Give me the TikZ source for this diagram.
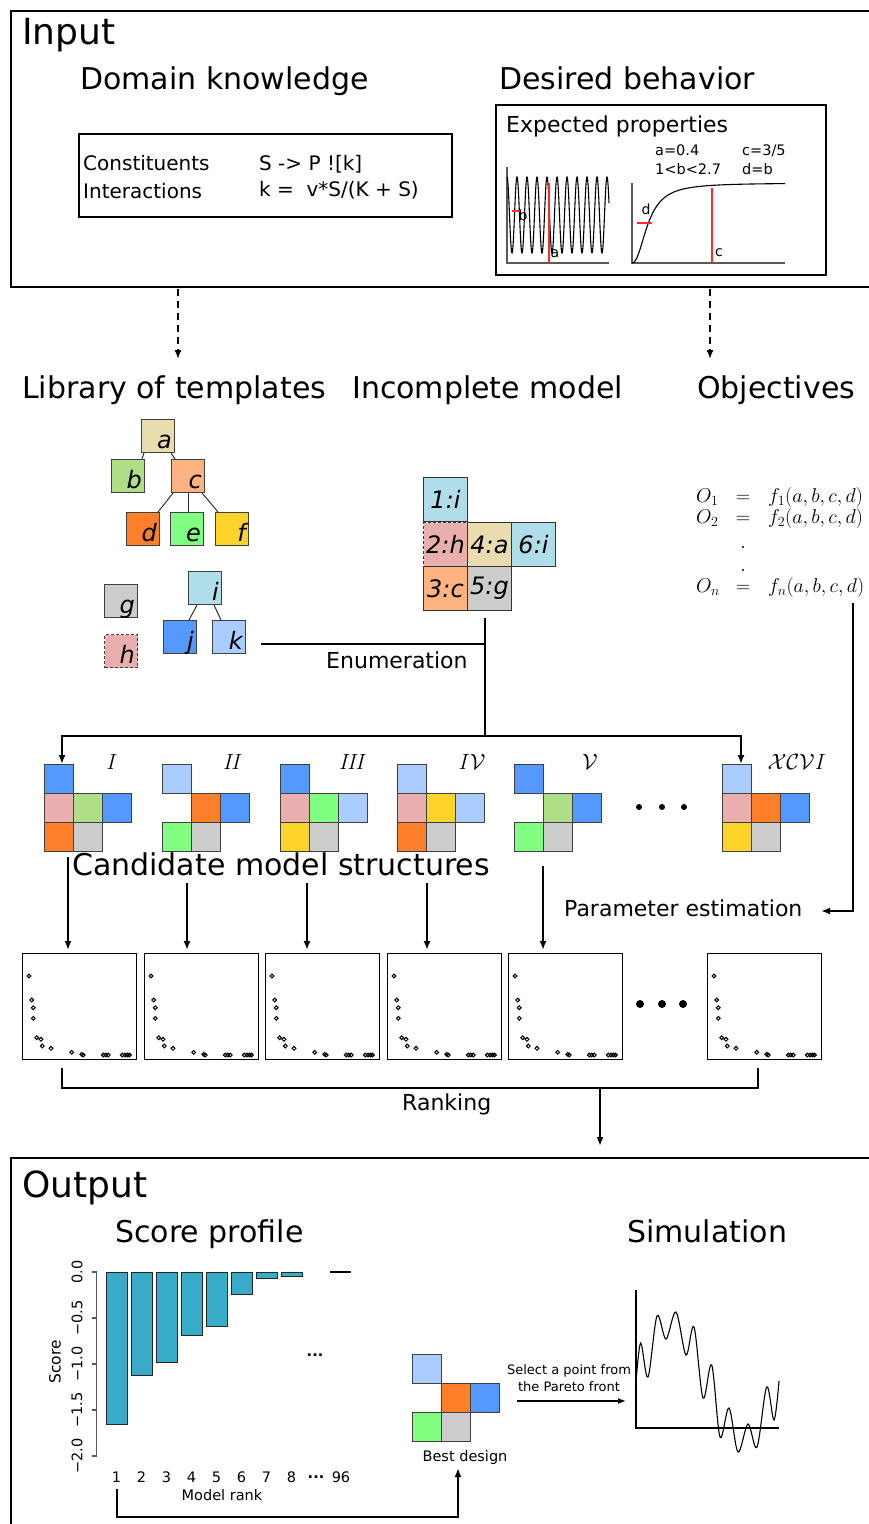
\documentclass[tikz,border=0pt]{standalone}
\usepackage{fix-cm}
\usepackage[no-math]{fontspec}
\setmainfont{DejaVu Sans}
\usetikzlibrary{arrows.meta}
\definecolor{cA}{HTML}{E9DDAF}
\definecolor{cB}{HTML}{AFDE87}
\definecolor{cC}{HTML}{FFB380}
\definecolor{cD}{HTML}{FF7F2A}
\definecolor{cE}{HTML}{80FF80}
\definecolor{cF}{HTML}{FFD42A}
\definecolor{cG}{HTML}{CCCCCC}
\definecolor{cH}{HTML}{E9AFAF}
\definecolor{cI}{HTML}{AFDDE9}
\definecolor{cJ}{HTML}{5599FF}
\definecolor{cK}{HTML}{AACCFF}
\definecolor{barc}{HTML}{37ABC8}
\definecolor{redl}{HTML}{FF2A2A}
\begin{document}
\begin{tikzpicture}[x=1pt,y=-1pt,
 hd/.style={font=\fontsize{30}{36}\selectfont, anchor=base west, inner sep=0pt},
 hdbig/.style={font=\fontsize{36}{42}\selectfont, anchor=base west, inner sep=0pt},
 lbl/.style={font=\fontsize{22}{26}\selectfont, anchor=base west, inner sep=0pt},
 dk/.style={font=\fontsize{20}{22}\selectfont, anchor=base west, inner sep=0pt},
 ep/.style={font=\fontsize{14.5}{16}\selectfont, anchor=base west, inner sep=0pt},
 frame/.style={draw, line width=2.2pt},
 conn/.style={draw, line width=2pt},
 arr/.style={conn, -{Latex[length=9pt,width=7pt]}},
 darr/.style={draw, line width=1.6pt, dash pattern=on 7pt off 5pt, -{Latex[length=9pt,width=7pt]}},
 tree/.style={draw=black!80, line width=1pt},
 tmpl/.style={draw=black!75, line width=1pt, minimum width=33pt, minimum height=33pt, inner sep=0pt, anchor=north west},
 tl/.style={label={[anchor=base east, xshift=-3pt, yshift=5pt, inner sep=0pt, font=\fontsize{24}{24}\selectfont\itshape]south east:#1}},
 mcell/.style={draw=black!80, line width=1pt, minimum width=44pt, minimum height=44pt, inner sep=0pt, anchor=north west, font=\fontsize{24}{24}\selectfont\itshape},
 ccell/.style={draw=black!75, line width=0.9pt, minimum width=29pt, minimum height=29pt, inner sep=0pt, anchor=north west},
 roman/.style={font=\fontsize{22}{22}\selectfont, inner sep=0pt},
 pbox/.style={draw, line width=1.1pt, minimum width=114pt, minimum height=106pt, inner sep=0pt, anchor=north west},
 small/.style={font=\fontsize{14.5}{16}\selectfont, inner sep=0pt},
 obj/.style={font=\fontsize{20}{20}\selectfont, inner sep=0pt},
 axisg/.style={draw=black!65, line width=1.5pt},
]
\useasboundingbox (0,0) rectangle (868,1524);

% ---------------- Input ----------------
\draw[frame] (11,11) rectangle (885,287);
\node[hdbig] (inT) at (22,44) {Input};
\node[hd] (dkT) at (80,89) {Domain knowledge};
\node[hd] (dbT) at (499,89) {Desired behavior};

\node[draw, line width=1.8pt, minimum width=373pt, minimum height=83pt, inner sep=0pt, anchor=north west] (dkbox) at (78,133) {};
\node[dk] (con) at (83,170) {Constituents};
\node[dk] (int) at (83,198) {Interactions};
\node[dk] (r1) at (259,170) {S -> P ![k]};
\node[dk] (r2) at (259,196) {k =\ \ v*S/(K + S)};

\node[draw, line width=1.8pt, minimum width=330pt, minimum height=170pt, inner sep=0pt, anchor=north west] (epbox) at (495,104) {};
\node[font=\fontsize{22}{26}\selectfont, anchor=base west, inner sep=0pt] (epT) at (506,132) {Expected properties};
\node[ep] (pa) at (655,155) {a=0.4};
\node[ep] (pc) at (742,155) {c=3/5};
\node[ep] (pb) at (655,174) {1<b<2.7};
\node[ep] (pd) at (742,174) {d=b};
% left plot
\draw[axisg] (507,167) -- (507,263) -- (609,263);
\draw[line width=1.1pt] plot[domain=0:102, samples=400] ({507+\x}, {215-38*cos(\x*36)});
\draw[redl, line width=1.3pt] (549,183) -- (549,263);
\draw[redl, line width=1.3pt] (512,211) -- (521,211);
\node[font=\fontsize{14}{14}\selectfont, inner sep=0pt] (la) at (555,254) {a};
\node[font=\fontsize{14}{14}\selectfont, inner sep=0pt] (lb) at (523,215) {b};
% right plot
\draw[axisg] (632,183) -- (632,263) -- (785,263);
\draw[line width=1.1pt] plot[domain=0:153, samples=120] ({632+\x}, {263-80*((\x/16.4)^2.2)/(1+(\x/16.4)^2.2)});
\draw[redl, line width=1.3pt] (712,188) -- (712,263);
\draw[redl, line width=1.3pt] (637,223) -- (652,223);
\node[font=\fontsize{14}{14}\selectfont, inner sep=0pt] (lc) at (719,253) {c};
\node[font=\fontsize{14}{14}\selectfont, inner sep=0pt] (ld) at (646,209) {d};

% dashed arrows
\draw[darr] (178,289) -- (178,359);
\draw[darr] (710,289) -- (710,359);

% ---------------- Middle headings ----------------
\node[hd] (libT) at (22,398) {Library of templates};
\node[hd] (incT) at (352,398) {Incomplete model};
\node[hd] (objT) at (697,398) {Objectives};

% templates
\node[tmpl, fill=cA, tl=a] (ta) at (141,419) {};
\node[tmpl, fill=cB, tl=b] (tb) at (111,459) {};
\node[tmpl, fill=cC, tl=c] (tc) at (171,459) {};
\node[tmpl, fill=cD, tl=d] (td) at (126,512) {};
\node[tmpl, fill=cE, tl=e] (te) at (170,512) {};
\node[tmpl, fill=cF, tl=f] (tf) at (215,512) {};
\node[tmpl, fill=cG, tl=g] (tg) at (104,584) {};
\node[tmpl, fill=cH, tl=h, dash pattern=on 3pt off 2pt] (th) at (104,634) {};
\node[tmpl, fill=cI, tl=i] (ti) at (188,571) {};
\node[tmpl, fill=cJ, tl=j] (tj) at (163,620) {};
\node[tmpl, fill=cK, tl=k] (tk) at (212,620) {};
\draw[tree] ([xshift=3pt]ta.south west) -- ([xshift=-3pt]tb.north east);
\draw[tree] ([xshift=-4pt]ta.south east) -- ([xshift=4pt]tc.north west);
\draw[tree] ([xshift=2pt]tc.south west) -- ([xshift=-2pt]td.north east);
\draw[tree] (tc.south) -- (tc.south |- te.north);
\draw[tree] ([xshift=-3pt]tc.south east) -- ([xshift=3pt]tf.north west);
\draw[tree] ([xshift=9pt]ti.south west) -- ([xshift=-8pt]tj.north east);
\draw[tree] ([xshift=-8pt]ti.south east) -- ([xshift=9pt]tk.north west);

% incomplete model
\node[mcell, fill=cH, dash pattern=on 3pt off 2pt] (m2) at (423,522) {2:h};
\node[mcell, fill=cI] (m1) at (423,477) {1:i};
\node[mcell, fill=cA] (m4) at (467,522) {4:a};
\node[mcell, fill=cI] (m6) at (511,522) {6:i};
\node[mcell, fill=cC] (m3) at (423,566) {3:c};
\node[mcell, fill=cG] (m5) at (467,566) {5:g};

% objectives
\node[obj, anchor=base west] (o1) at (696,502) {$O_1$};
\node[obj, anchor=base] (e1) at (743,502) {$=$};
\node[obj, anchor=base west] (f1) at (768,502) {$f_1(a,b,c,d)$};
\node[obj, anchor=base west] (o2) at (696,523) {$O_2$};
\node[obj, anchor=base] (e2) at (743,523) {$=$};
\node[obj, anchor=base west] (f2) at (768,523) {$f_2(a,b,c,d)$};
\fill (743,547) circle[radius=1.2pt];
\fill (743,570) circle[radius=1.2pt];
\node[obj, anchor=base west] (on) at (696,592) {$O_n$};
\node[obj, anchor=base] (en) at (743,592) {$=$};
\node[obj, anchor=base west] (fn) at (768,592) {$f_n(a,b,c,d)$};

% enumeration connectors
\coordinate (enA) at (261,644);
\coordinate (enTop) at (485,618);
\coordinate (enJ) at (485,644);
\coordinate (enB) at (485,736);
\coordinate (enL) at (62,736);
\coordinate (enR) at (741,736);
\draw[conn] (enA) -- (enJ);
\draw[conn] (enTop) -- (enB);
\draw[conn, line cap=rect] (enL) -- (enR);
\node[lbl] (enT) at (326,668) {Enumeration};

% ---------------- Candidates ----------------
% I
\node[ccell, fill=cJ] (c1t) at (44,764) {};
\node[ccell, fill=cH] (c1a) at (44,793) {};
\node[ccell, fill=cB] (c1b) at (73,793) {};
\node[ccell, fill=cJ] (c1c) at (102,793) {};
\node[ccell, fill=cD] (c1d) at (44,822) {};
\node[ccell, fill=cG] (c1e) at (73,822) {};
\node[roman] (n1) at (112,762) {$\mathit{I}$};
% II
\node[ccell, fill=cK] (c2t) at (162,764) {};
\node[ccell, fill=cD] (c2b) at (191,793) {};
\node[ccell, fill=cJ] (c2c) at (220,793) {};
\node[ccell, fill=cE] (c2d) at (162,822) {};
\node[ccell, fill=cG] (c2e) at (191,822) {};
\node[roman] (n2) at (233,762) {$\mathit{II}$};
% III
\node[ccell, fill=cJ] (c3t) at (280,764) {};
\node[ccell, fill=cH] (c3a) at (280,793) {};
\node[ccell, fill=cE] (c3b) at (309,793) {};
\node[ccell, fill=cK] (c3c) at (338,793) {};
\node[ccell, fill=cF] (c3d) at (280,822) {};
\node[ccell, fill=cG] (c3e) at (309,822) {};
\node[roman] (n3) at (353,762) {$\mathit{III}$};
% IV
\node[ccell, fill=cK] (c4t) at (397,764) {};
\node[ccell, fill=cH] (c4a) at (397,793) {};
\node[ccell, fill=cF] (c4b) at (426,793) {};
\node[ccell, fill=cK] (c4c) at (455,793) {};
\node[ccell, fill=cD] (c4d) at (397,822) {};
\node[ccell, fill=cG] (c4e) at (426,822) {};
\node[roman] (n4) at (472,762) {$\mathit{I}\mathcal{V}$};
% V
\node[ccell, fill=cJ] (c5t) at (514,764) {};
\node[ccell, fill=cB] (c5b) at (543,793) {};
\node[ccell, fill=cJ] (c5c) at (572,793) {};
\node[ccell, fill=cE] (c5d) at (514,822) {};
\node[ccell, fill=cG] (c5e) at (543,822) {};
\node[roman] (n5) at (590,762) {$\mathcal{V}$};
% dots
\fill (639,807) circle[radius=3pt];
\fill (662,807) circle[radius=3pt];
\fill (684,807) circle[radius=3pt];
% XCVI
\node[ccell, fill=cK] (c6t) at (722,764) {};
\node[ccell, fill=cH] (c6a) at (722,793) {};
\node[ccell, fill=cD] (c6b) at (751,793) {};
\node[ccell, fill=cJ] (c6c) at (780,793) {};
\node[ccell, fill=cF] (c6d) at (722,822) {};
\node[ccell, fill=cG] (c6e) at (751,822) {};
\node[roman] (n6) at (797,762) {$\mathcal{XCV}\mathit{I}$};

\draw[arr] (enL) -- (enL |- c1t.north);
\draw[arr] (enR) -- (enR |- c6t.north);

\node[hd] (candT) at (72,875) {Candidate model structures};

% objectives -> parameter estimation
\coordinate (obB) at (853,603);
\coordinate (peA) at (821,911);
\draw[arr] (obB) |- (peA);
\node[lbl] (peT) at (564,916) {Parameter estimation};

% ---------------- Plots ----------------
\foreach \bx/\n in {22/1,144/2,265/3,387/4,508/5,707/6}{
  \node[pbox] (p\n) at (\bx,953) {};
  \foreach \px/\py in {7/23,9.7/47,11.3/54.7,11.3/65.3,14.7/84.7,19/86.3,20.3/93,29/95.3,49.7/99.3,59.7/101.3,61.3/102,81.3/102,83.7/102,86.3/102,100.3/102,103/102,105.5/102,107.5/102}{
    \draw[line width=1pt] (\bx+\px,953+\py) circle[radius=1.9pt];
  }
}
\fill (640,1004) circle[radius=4pt];
\fill (662,1004) circle[radius=4pt];
\fill (683,1004) circle[radius=4pt];

\draw[arr] (68,857) -- (68,950);
\draw[arr] (187,883) -- (187,950);
\draw[arr] (307,883) -- (307,950);
\draw[arr] (427,883) -- (427,950);
\draw[arr] (543,866) -- (543,950);

% ranking
\coordinate (rkL) at (62,1068);
\coordinate (rkR) at (758,1068);
\coordinate (rkM) at (600,1088);
\draw[conn] (rkL) -- (62,1088) -- (758,1088) -- (rkR);
\draw[arr] (rkM) -- (600,1146);
\node[lbl] (rkT) at (402,1110) {Ranking};

% ---------------- Output ----------------
\draw[frame] (11,1158) rectangle (885,1540);
\node[hdbig] (outT) at (22,1197) {Output};
\node[hd] (spT) at (115,1242) {Score profile};
\node[hd] (simT) at (627,1242) {Simulation};

% score chart
\foreach \i/\v in {1/1.66,2/1.12,3/0.98,4/0.69,5/0.59,6/0.24,7/0.07,8/0.05}{
  \draw[fill=barc, draw=black!85, line width=0.9pt] (106+25*\i-25,1272) rectangle (127+25*\i-25,1272+92*\v);
}
\draw[line width=1.2pt] (330,1272) -- (351,1272);
\draw[draw=black!65, line width=1.2pt] (96.7,1272) -- (96.7,1456);
\foreach \k/\t in {0/0.0,1/−0.5,2/−1.0,3/−1.5,4/−2.0}{
  \draw[draw=black!65, line width=1.2pt] (96.7,1272+46*\k) -- (91.7,1272+46*\k);
  \node[small, rotate=90] (yt\k) at (77,1272+46*\k) {\t};
}
\node[small, font=\fontsize{15.5}{16}\selectfont, rotate=90] (scoreT) at (55,1362) {Score};
\foreach \i in {1,...,8}{
  \node[small] (xt\i) at (116.5+25*\i-25,1477) {\i};
}
\node[small, font=\fontsize{14.5}{16}\selectfont\bfseries] (xtd) at (316,1477) {...};
\node[small] (xt96) at (341,1477) {96};
\node[small, font=\fontsize{14.5}{16}\selectfont\bfseries] (cdots) at (315,1355) {...};
\node[small] (mrT) at (222,1495) {Model rank};

% best design
\node[ccell, fill=cK] (b1) at (412,1354) {};
\node[ccell, fill=cD] (b2) at (441,1383) {};
\node[ccell, fill=cJ] (b3) at (470,1383) {};
\node[ccell, fill=cE] (b4) at (412,1412) {};
\node[ccell, fill=cG] (b5) at (441,1412) {};
\node[small] (bdT) at (465,1457) {Best design};
\draw[arr] (117,1489) -- (117,1517) -- (458,1517) -- (458,1468);

\coordinate (selA) at (517,1401);
\coordinate (selB) at (626,1401);
\draw[-{Latex[length=8pt,width=6pt]}, line width=1.3pt] (selA) -- (selB);
\node[font=\fontsize{13}{17}\selectfont, align=center, inner sep=0pt] (selT) at (569,1378) {Select a point from\\the Pareto front};

% simulation plot
\draw[line width=1.3pt] (636,1290) -- (636,1428) -- (779,1428);
\draw[line width=1.1pt] plot[smooth, tension=0.55] coordinates {(636,1382) (640.7,1343) (648,1377) (657,1316) (666,1339) (676,1312) (686,1355) (694,1327) (703,1398) (711.7,1365) (720,1437) (729,1408) (738,1452) (748,1424) (757,1447) (766.7,1387) (774,1420) (779,1381)};
\end{tikzpicture}
\end{document}
